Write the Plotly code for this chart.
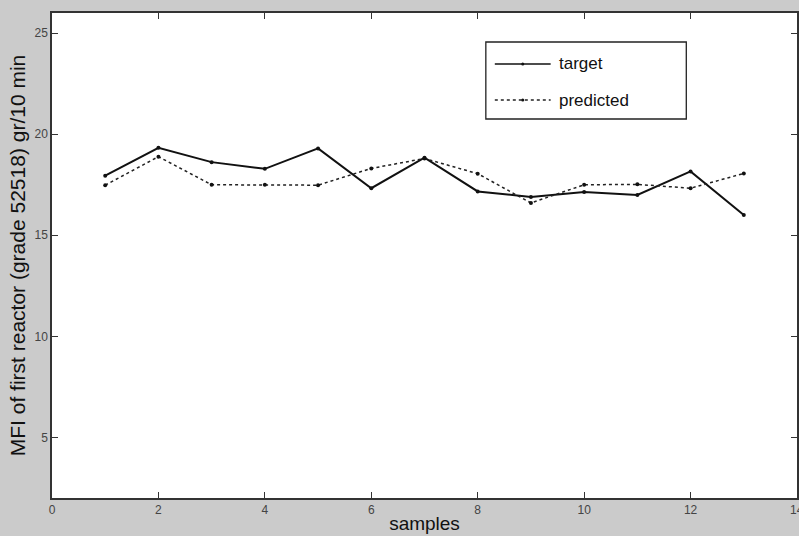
import plotly.graph_objects as go

# sample index and MFI values (gr/10 min)
samples = list(range(1, 14))
target = [17.95, 19.33, 18.62, 18.29, 19.3, 17.33, 18.84, 17.17, 16.9, 17.14, 17.0, 18.16, 16.0]
predicted = [17.48, 18.89, 17.5, 17.5, 17.48, 18.31, 18.8, 18.05, 16.6, 17.5, 17.52, 17.33, 18.06]

x_ticks = [0, 2, 4, 6, 8, 10, 12, 14]
y_ticks = [5, 10, 15, 20, 25]

W, H = 799, 536
ML, MR, MT, MB = 52, 0, 13, 38
PW, PH = W - ML - MR, H - MT - MB

FONT = "Liberation Sans, Arial, sans-serif"
INK = "#111111"
TICK_FONT = dict(family=FONT, size=12, color="#444444")


def px(x):
    return (x - ML) / PW


def py(y):
    return (H - MB - y) / PH


fig = go.Figure()
fig.add_trace(go.Scatter(
    x=samples, y=target, mode="lines+markers", name="target",
    line=dict(color=INK, width=2), marker=dict(color=INK, size=4),
    showlegend=False,
))
fig.add_trace(go.Scatter(
    x=samples, y=predicted, mode="lines+markers", name="predicted",
    line=dict(color="#222222", width=1.5, dash="dot"), marker=dict(color=INK, size=4),
    showlegend=False,
))

# boxed legend in the upper right
shapes = [
    dict(type="rect", xref="paper", yref="paper", x0=px(487), x1=px(688), y0=py(119), y1=py(42),
         line=dict(color="#222222", width=1.3), fillcolor="white", layer="above"),
    dict(type="line", xref="paper", yref="paper", x0=px(496), x1=px(552), y0=py(64), y1=py(64),
         line=dict(color=INK, width=1.6)),
    dict(type="line", xref="paper", yref="paper", x0=px(496), x1=px(552), y0=py(100), y1=py(100),
         line=dict(color="#222222", width=1.3, dash="dot")),
]
for yy in (64, 100):
    shapes.append(dict(type="circle", xref="paper", yref="paper",
                       x0=px(522.5), x1=px(525.5), y0=py(yy + 1.5), y1=py(yy - 1.5),
                       fillcolor=INK, line=dict(color=INK, width=0)))

annotations = [
    dict(text="target", xref="paper", yref="paper", x=px(558), y=py(64), xanchor="left",
         yanchor="middle", showarrow=False, font=dict(family=FONT, size=17, color=INK)),
    dict(text="predicted", xref="paper", yref="paper", x=px(558), y=py(100), xanchor="left",
         yanchor="middle", showarrow=False, font=dict(family=FONT, size=17, color=INK)),
    # last x tick label sits on the right edge of the page
    dict(text=str(x_ticks[-1]), xref="x", yref="paper", x=x_ticks[-1], y=0, yshift=-3,
         xanchor="center", yanchor="top", showarrow=False, font=TICK_FONT),
]

axis_common = dict(
    showgrid=False, zeroline=False, showline=True, linecolor="#333333", linewidth=1.5,
    mirror="ticks", ticks="inside", ticklen=6, tickwidth=1, tickcolor="#333333",
    tickfont=TICK_FONT,
)

fig.update_layout(
    width=W, height=H,
    margin=dict(l=ML, r=MR, t=MT, b=MB),
    paper_bgcolor="#cbcbcb", plot_bgcolor="white",
    shapes=shapes, annotations=annotations,
    xaxis=dict(range=[0, 14], tickvals=x_ticks[:-1], ticktext=[str(v) for v in x_ticks[:-1]],
               title=dict(text="samples", font=dict(family=FONT, size=19, color=INK), standoff=1),
               **axis_common),
    yaxis=dict(range=[2, 26], tickvals=y_ticks, ticktext=[str(v) for v in y_ticks],
               title=dict(text="MFI of first reactor (grade 52518) gr/10 min",
                          font=dict(family=FONT, size=21, color=INK), standoff=3),
               **axis_common),
)

fig.write_html("out.html")
